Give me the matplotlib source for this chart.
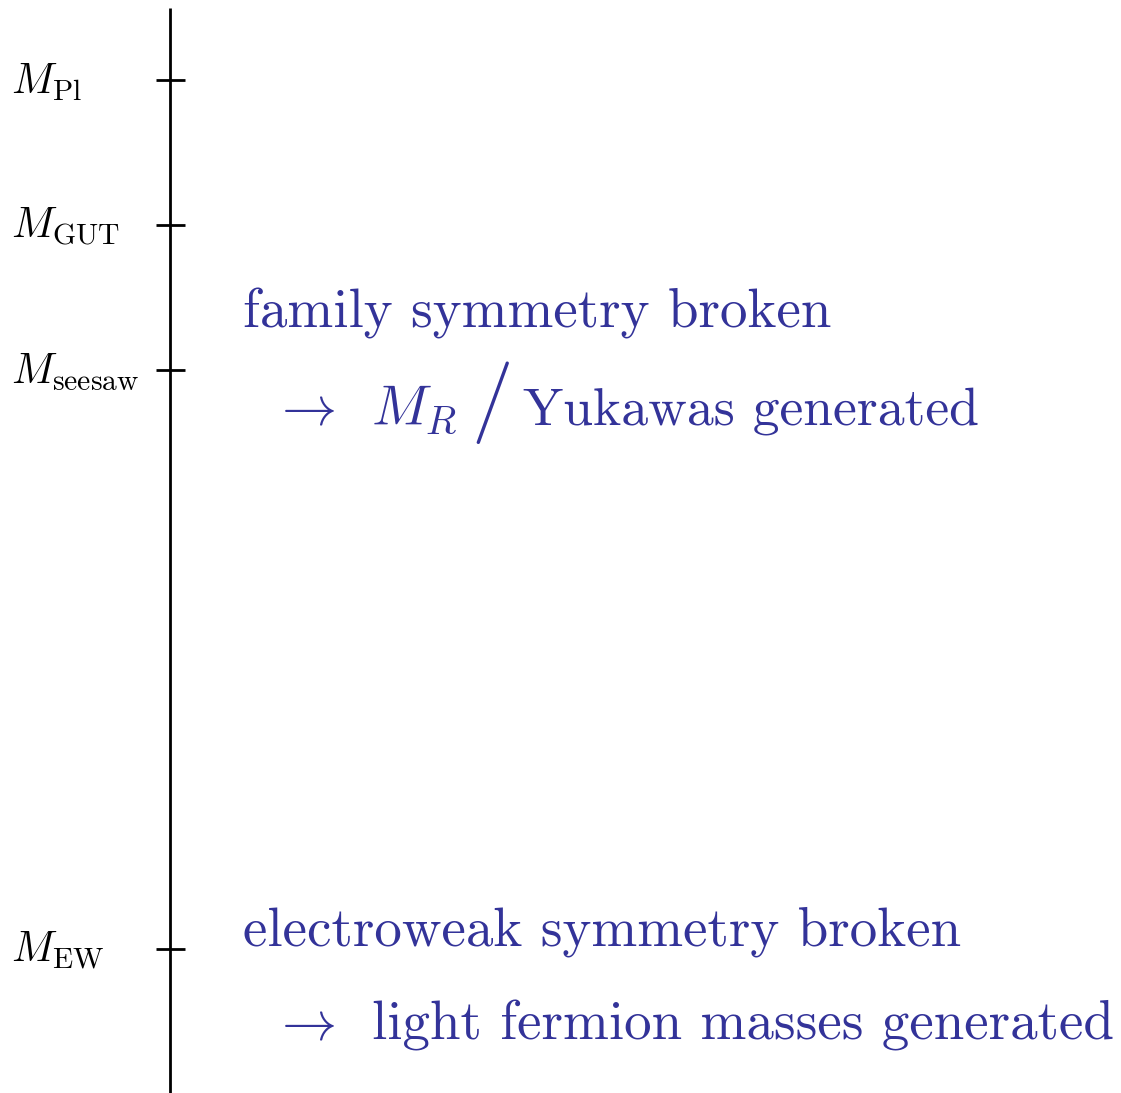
import matplotlib
matplotlib.use("Agg")
import matplotlib.pyplot as plt

plt.rcParams['mathtext.fontset'] = 'cm'
plt.rcParams['font.family'] = 'cmr10'
plt.rcParams['axes.unicode_minus'] = False

# Schematic energy scale (log10 of energy, arbitrary units)
scale_labels = [r'$M_{\mathrm{Pl}}$', r'$M_{\mathrm{GUT}}$', r'$M_{\mathrm{seesaw}}$', r'$M_{\mathrm{EW}}$']
scale_values = [19.0, 16.0, 13.0, 1.03]
axis_range = [-1.96, 20.5]

blue = '#333399'

fig = plt.figure(figsize=(11.21, 10.93), dpi=100)
ax = fig.add_axes([0, 0, 1, 1])
ax.set_xlim(0, 1121)
ax.set_ylim(axis_range[0], axis_range[1] + 0.16)
ax.axis('off')

x_axis = 170
ax.plot([x_axis, x_axis], axis_range, color='black', lw=2, solid_capstyle='butt')
for lab, v in zip(scale_labels, scale_values):
    ax.plot([x_axis - 14, x_axis + 15], [v, v], color='black', lw=2, solid_capstyle='butt')
    ax.text(11, v - 0.28, lab, fontsize=30.5, ha='left', va='baseline', color='black')

fs = 39.6
# seesaw annotation
ax.text(243, scale_values[2] + 0.88, 'family symmetry broken', fontsize=fs, color=blue, va='baseline')
ax.text(272, scale_values[2] - 1.13, r'$\rightarrow$', fontsize=fs, color=blue, va='baseline')
ax.text(371, scale_values[2] - 1.13, r'$M_R$', fontsize=40.5, color=blue, va='baseline')
ax.text(471, scale_values[2] - 1.1, '/', fontsize=60, color=blue, va='baseline')
ax.text(523, scale_values[2] - 1.13, 'Yukawas generated', fontsize=38.6, color=blue, va='baseline')

# EW annotation
ax.text(243, scale_values[3] + 0.07, 'electroweak symmetry broken', fontsize=fs, color=blue, va='baseline')
ax.text(272, scale_values[3] - 1.88, r'$\rightarrow$', fontsize=fs, color=blue, va='baseline')
ax.text(372, scale_values[3] - 1.88, 'light fermion masses generated', fontsize=fs, color=blue, va='baseline')

fig.savefig('out.png', dpi=100)
